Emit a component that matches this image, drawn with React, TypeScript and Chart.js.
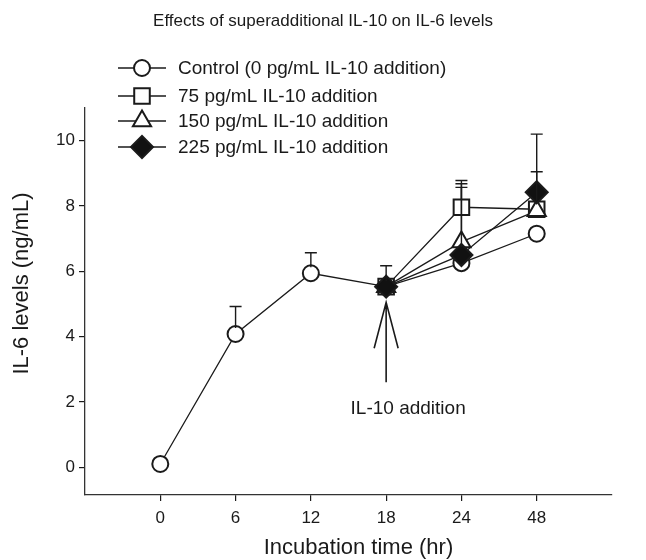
import React, { useEffect, useRef } from 'react';
import { Chart, registerables } from 'chart.js';
import { drawPoint } from 'chart.js/helpers';

Chart.register(...registerables);

const FONT = "'Liberation Sans', Arial, Helvetica, sans-serif";
const INK = '#1a1a1a';

// Incubation time categories (hr)
const timeLabels = ['0', '6', '12', '18', '24', '48'];

// IL-6 levels (ng/mL): means and upper SD per series
const controlMean = [0.1, 4.08, 5.94, 5.53, 6.25, 7.15];
const controlSD = [0, 0.84, 0.63, 0.64, 0, 0];
const il10_75Mean = [null, null, null, 5.53, 7.96, 7.9];
const il10_75SD = [null, null, null, 0, 0.82, 1.15];
const il10_150Mean = [null, null, null, 5.53, 6.9, 7.85];
const il10_150SD = [null, null, null, 0, 1.78, 0];
const il10_225Mean = [null, null, null, 5.53, 6.5, 8.42];
const il10_225SD = [null, null, null, 0, 2.07, 1.78];

const seriesNames = [
  'Control (0 pg/mL IL-10 addition)',
  '75 pg/mL IL-10 addition',
  '150 pg/mL IL-10 addition',
  '225 pg/mL IL-10 addition',
];

const yTicks = [0, 2, 4, 6, 8, 10];

// Annotation: arrow at 18 hr
const arrowIndex = 3;
const arrowTip = 5.05;
const arrowTail = 2.6;
const arrowLabel = 'IL-10 addition';
const arrowLabelValue = 1.8;

const chartTitle = 'Effects of superadditional IL-10 on IL-6 levels';
const xTitle = 'Incubation time (hr)';
const yTitle = 'IL-6 levels (ng/mL)';

const styles = [
  { pointStyle: 'circle', radius: 8, fill: '#ffffff' },
  { pointStyle: 'rect', radius: 11, fill: '#ffffff' },
  { pointStyle: 'triangle', radius: 10.5, fill: '#ffffff' },
  { pointStyle: 'rectRot', radius: 11, fill: '#111111' },
];

const series = [
  { name: seriesNames[0], mean: controlMean, sd: controlSD },
  { name: seriesNames[1], mean: il10_75Mean, sd: il10_75SD },
  { name: seriesNames[2], mean: il10_150Mean, sd: il10_150SD },
  { name: seriesNames[3], mean: il10_225Mean, sd: il10_225SD },
];

const errorBarPlugin = {
  id: 'errorBars',
  afterDatasetsDraw(chart: any) {
    const { ctx, scales } = chart;
    const x = scales.x;
    const y = scales.y;
    ctx.save();
    ctx.strokeStyle = INK;
    ctx.lineWidth = 1.4;
    series.forEach((s, si) => {
      s.mean.forEach((m: number | null, i: number) => {
        const sd = s.sd[i] as number | null;
        if (m == null || !sd) return;
        const px = x.getPixelForValue(i);
        const py0 = y.getPixelForValue(m) - styles[si].radius * 0.75;
        const py1 = y.getPixelForValue(m + sd);
        ctx.beginPath();
        ctx.moveTo(px, py0);
        ctx.lineTo(px, py1);
        ctx.moveTo(px - 6, py1);
        ctx.lineTo(px + 6, py1);
        ctx.stroke();
      });
    });
    ctx.restore();
  },
};

const decorPlugin = {
  id: 'decor',
  afterDraw(chart: any) {
    const { ctx, scales, chartArea } = chart;
    const x = scales.x;
    const y = scales.y;
    ctx.save();
    // title
    ctx.fillStyle = INK;
    ctx.font = `17px ${FONT}`;
    ctx.textAlign = 'center';
    ctx.textBaseline = 'middle';
    ctx.fillText(chartTitle, chart.width / 2, 21);

    // axis titles
    ctx.font = `22px ${FONT}`;
    ctx.fillText(xTitle, (chartArea.left + chartArea.right) / 2 + 10, 548);
    ctx.save();
    ctx.translate(22, (chartArea.top + chartArea.bottom) / 2 - 18);
    ctx.rotate(-Math.PI / 2);
    ctx.fillText(yTitle, 0, 0);
    ctx.restore();

    // legend
    const rowY = [68, 96, 121, 147];
    series.forEach((s, si) => {
      const cy = rowY[si];
      ctx.strokeStyle = INK;
      ctx.lineWidth = 1.4;
      ctx.beginPath();
      ctx.moveTo(118, cy);
      ctx.lineTo(166, cy);
      ctx.stroke();
      ctx.fillStyle = styles[si].fill;
      ctx.strokeStyle = INK;
      ctx.lineWidth = 2;
      drawPoint(ctx, { pointStyle: styles[si].pointStyle, radius: styles[si].radius, rotation: 0, borderWidth: 2 } as any, 142, cy);
      ctx.fillStyle = INK;
      ctx.font = `19px ${FONT}`;
      ctx.textAlign = 'left';
      ctx.textBaseline = 'middle';
      ctx.fillText(s.name, 178, cy + 1);
    });

    // arrow
    const ax = x.getPixelForValue(arrowIndex);
    const tip = y.getPixelForValue(arrowTip);
    const tail = y.getPixelForValue(arrowTail);
    ctx.strokeStyle = INK;
    ctx.lineWidth = 1.6;
    ctx.beginPath();
    ctx.moveTo(ax, tip);
    ctx.lineTo(ax, tail);
    ctx.moveTo(ax - 12, tip + 46);
    ctx.lineTo(ax, tip);
    ctx.lineTo(ax + 12, tip + 46);
    ctx.stroke();
    ctx.fillStyle = INK;
    ctx.font = `19px ${FONT}`;
    ctx.textAlign = 'center';
    ctx.textBaseline = 'middle';
    ctx.fillText(arrowLabel, ax + 22, y.getPixelForValue(arrowLabelValue));
    ctx.restore();
  },
};

export default function App() {
  const ref = useRef<HTMLCanvasElement | null>(null);
  useEffect(() => {
    if (!ref.current) return;
    const datasets = series.map((s, si) => ({
      label: s.name,
      data: s.mean.map((v, i) => ({ x: i, y: v })),
      borderColor: INK,
      borderWidth: 1.3,
      backgroundColor: styles[si].fill,
      pointStyle: styles[si].pointStyle as any,
      pointRadius: styles[si].radius,
      pointHoverRadius: styles[si].radius,
      pointBorderWidth: 2,
      pointBorderColor: INK,
      pointBackgroundColor: styles[si].fill,
      fill: false,
      tension: 0,
      order: 3 - si,
    }));
    const chart = new Chart(ref.current, {
      type: 'line',
      data: { datasets },
      options: {
        animation: false,
        responsive: false,
        devicePixelRatio: 1,
        layout: { padding: { top: 108, right: 34, bottom: 0, left: 0 } },
        plugins: {
          legend: { display: false },
          title: { display: false },
          tooltip: { enabled: false },
        },
        scales: {
          x: {
            type: 'linear',
            min: -1,
            max: 6,
            afterBuildTicks: (scale: any) => {
              scale.ticks = timeLabels.map((_, i) => ({ value: i }));
            },
            afterFit: (scale: any) => {
              scale.height = 65;
            },
            grid: { drawOnChartArea: false, drawTicks: true, tickLength: 6, color: INK, lineWidth: 1.2 },
            border: { display: true, color: '#333', width: 1.3 },
            ticks: {
              padding: 7,
              color: INK,
              font: { family: FONT, size: 17 },
              maxRotation: 0,
              autoSkip: false,
              callback: (v: any) => timeLabels[Math.round(Number(v))] ?? '',
            },
            title: { display: false },
          },
          y: {
            type: 'linear',
            min: -0.85,
            max: 11,
            afterBuildTicks: (scale: any) => {
              scale.ticks = yTicks.map((v) => ({ value: v }));
            },
            afterFit: (scale: any) => {
              scale.width = 85;
            },
            grid: { drawOnChartArea: false, drawTicks: true, tickLength: 6, color: INK, lineWidth: 1.2 },
            border: { display: true, color: '#333', width: 1.3 },
            ticks: {
              padding: 4,
              color: INK,
              font: { family: FONT, size: 17 },
              autoSkip: false,
            },
            title: { display: false },
          },
        },
      },
      plugins: [errorBarPlugin, decorPlugin],
    });
    return () => chart.destroy();
  }, []);
  return (
    <div style={{ position: 'absolute', left: 0, top: 0, width: 646, height: 560, background: '#fff' }}>
      <canvas ref={ref} width={646} height={560} style={{ display: 'block' }} />
    </div>
  );
}
